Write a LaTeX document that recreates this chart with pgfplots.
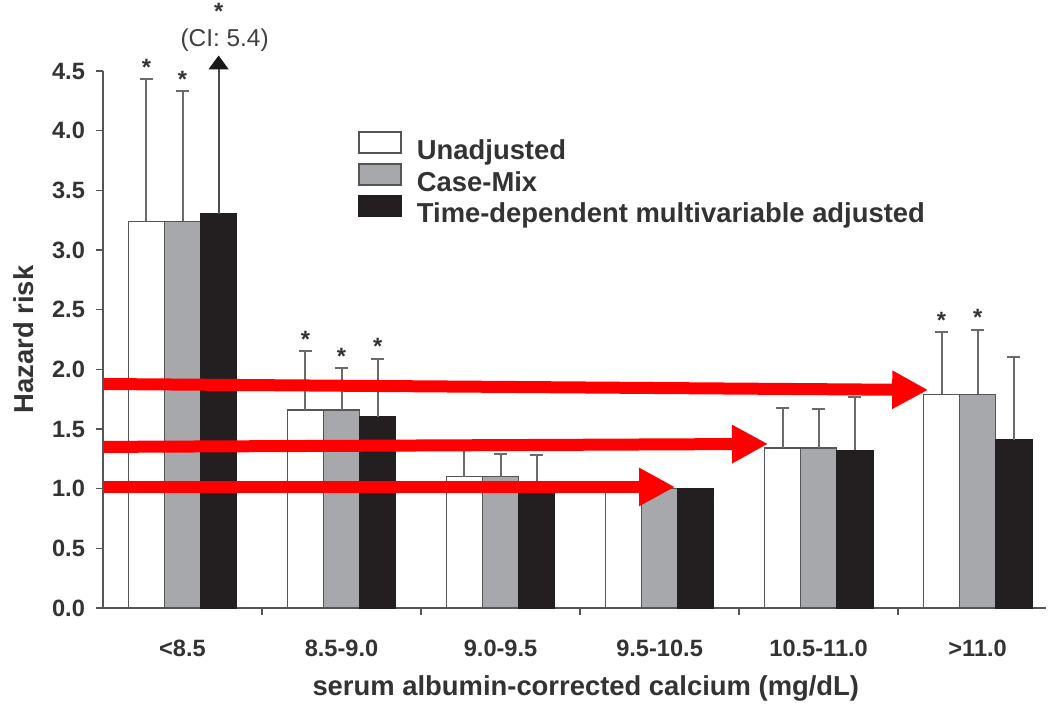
\documentclass[border=0pt]{standalone}
\usepackage{fontspec}
\setmainfont{Liberation Sans}
\usepackage{pgfplots}
\usepackage{pgfplotstable}
\pgfplotsset{compat=1.18}
\usetikzlibrary{arrows.meta}

\definecolor{bargray}{HTML}{A7A8AB}
\definecolor{barblack}{HTML}{231F20}
\definecolor{edge}{HTML}{555555}
\definecolor{errc}{HTML}{6A6A6A}
\definecolor{txt}{HTML}{333333}

\newcommand\tickfont{\fontsize{11.8pt}{14pt}\selectfont\bfseries}
\newcommand\labfont{\fontsize{13.7pt}{16pt}\selectfont\bfseries}

% hazard ratio (y) and upper confidence limit (hi) per calcium category
\pgfplotstableread{
x y    hi
0 3.24 4.43
1 1.66 2.15
2 1.10 1.33
3 1.00 1.00
4 1.34 1.68
5 1.79 2.31
}\unadj
\pgfplotstableread{
x y    hi
0 3.24 4.33
1 1.66 2.01
2 1.10 1.29
3 1.00 1.00
4 1.34 1.67
5 1.79 2.33
}\casemix
\pgfplotstableread{
x y    hi
0 3.30 5.40
1 1.60 2.09
2 1.06 1.28
3 1.00 1.00
4 1.32 1.77
5 1.41 2.10
}\timedep
% rows that carry an upper error bar (reference group has none;
% the off-scale limit of the first adjusted bar is drawn as an arrow)
\pgfplotstableread{
x y    hi
0 3.24 4.43
1 1.66 2.15
2 1.10 1.33
4 1.34 1.68
5 1.79 2.31
}\unadjerr
\pgfplotstableread{
x y    hi
0 3.24 4.33
1 1.66 2.01
2 1.10 1.29
4 1.34 1.67
5 1.79 2.33
}\casemixerr
\pgfplotstableread{
x y    hi
1 1.60 2.09
2 1.06 1.28
4 1.32 1.77
5 1.41 2.10
}\timedeperr

\pgfplotsset{
  errstyle/.style={forget plot, draw=none, mark=none,
    error bars/.cd, y dir=plus, y explicit,
    error bar style={draw=errc, line width=1pt, solid},
    error mark options={rotate=90, mark size=3.25pt, draw=errc, line width=1pt}},
}
\tikzset{
  sigstar/.style={font=\tickfont, text=txt, anchor=base, inner sep=0pt, yshift=2pt}
}

\begin{document}
\begin{tikzpicture}
\useasboundingbox (-51.5pt,-49.5pt) rectangle (472.5pt,304pt);
\begin{axis}[
  at={(0,0)}, anchor=south west,
  scale only axis, width=471.5pt, height=268.5pt,
  xmin=-0.5, xmax=5.43, ymin=0, ymax=4.5,
  clip=false,
  axis x line*=bottom, axis y line*=left,
  axis line style={draw=edge, line width=0.75pt},
  tick style={draw=edge, line width=0.75pt},
  tick align=outside, major tick length=3.5pt,
  ytick={0,0.5,...,4.5},
  yticklabel style={font=\tickfont, text=txt, xshift=-2pt},
  /pgf/number format/.cd, fixed, fixed zerofill, precision=1, assume math mode=true,
  /pgfplots/.cd,
  xtick={0.5,1.5,2.5,3.5,4.5}, xticklabels={},
  extra x ticks={0,1,2,3,4,5},
  extra x tick labels={<8.5,8.5-9.0,9.0-9.5,9.5-10.5,10.5-11.0,>11.0},
  extra x tick style={major tick length=0pt,
    xticklabel style={font=\tickfont, text=txt, anchor=center, yshift=-20pt}},
  xlabel={serum albumin-corrected calcium (mg/dL)},
  xlabel style={font=\labfont, text=txt, anchor=center,
    at={([yshift=-40pt]axis description cs:0.512,0)}},
  ylabel={Hazard risk},
  ylabel style={font=\labfont, text=txt, anchor=center,
    at={([xshift=-39.5pt]axis description cs:0,0.5)}},
  legend style={at={(0,1)}, anchor=north west, xshift=127.5pt, yshift=-30pt,
    draw=none, fill=none, inner sep=0pt, row sep=-2.3pt, font=\labfont,
    nodes={inner sep=1pt, text height=10pt, text depth=3pt, text=txt},
    /tikz/every odd column/.append style={column sep=6.5pt}},
  legend cell align=left,
]
% bars
\addplot[ybar, forget plot, bar width=0.227, bar shift=-0.227,
  fill=white, draw=edge, line width=0.75pt] table[x=x, y=y] {\unadj};
\addplot[ybar, forget plot, bar width=0.227, bar shift=0,
  fill=bargray, draw=edge, line width=0.75pt] table[x=x, y=y] {\casemix};
\addplot[ybar, forget plot, bar width=0.227, bar shift=0.227,
  fill=barblack, draw=barblack, line width=0.75pt] table[x=x, y=y] {\timedep};

% upper confidence limits
\addplot[errstyle] table[x expr=\thisrow{x}-0.227, y=y,
  y error expr=\thisrow{hi}-\thisrow{y}] {\unadjerr};
\addplot[errstyle] table[x=x, y=y,
  y error expr=\thisrow{hi}-\thisrow{y}] {\casemixerr};
\addplot[errstyle] table[x expr=\thisrow{x}+0.227, y=y,
  y error expr=\thisrow{hi}-\thisrow{y}] {\timedeperr};

% off-scale upper limit of the adjusted estimate below 8.5 mg/dL
\draw[draw=black!70, line width=1pt,
  -{Triangle[length=7pt, width=10pt, fill=black!90, color=black!90]}]
  (axis cs:0.227,3.30) -- (axis cs:0.227,4.63);
\node[font=\fontsize{12.2pt}{14pt}\selectfont, text=black!75, anchor=center,
  inner sep=0pt, xshift=3pt] at (axis cs:0.227,4.76) {(CI: 5.4)};

% significance markers
\node[sigstar] at (axis cs:-0.227,4.43) {*};
\node[sigstar] at (axis cs:0,4.33) {*};
\node[sigstar, yshift=-2pt] at (axis cs:0.227,4.93) {*};
\node[sigstar] at (axis cs:0.773,2.15) {*};
\node[sigstar] at (axis cs:1,2.01) {*};
\node[sigstar] at (axis cs:1.227,2.09) {*};
\node[sigstar] at (axis cs:4.773,2.31) {*};
\node[sigstar] at (axis cs:5,2.33) {*};

% legend
\addlegendimage{legend image code/.code={\draw[fill=white, draw=edge, line width=0.75pt] (0pt,-0.25pt) rectangle (21pt,10.25pt);}}
\addlegendentry{Unadjusted}
\addlegendimage{legend image code/.code={\draw[fill=bargray, draw=edge, line width=0.75pt] (0pt,-0.25pt) rectangle (21pt,10.25pt);}}
\addlegendentry{Case-Mix}
\addlegendimage{legend image code/.code={\draw[fill=barblack, draw=barblack, line width=0.75pt] (0pt,-0.25pt) rectangle (21pt,10.25pt);}}
\addlegendentry{Time-dependent multivariable adjusted}

% highlight arrows
\draw[red, line width=6pt, -{Triangle[length=18pt, width=18pt]}]
  (axis cs:-0.494,1.877) -- (axis cs:4.689,1.827);
\draw[red, line width=6pt, -{Triangle[length=18pt, width=18pt]}]
  (axis cs:-0.494,1.35) -- (axis cs:3.682,1.375);
\draw[red, line width=6pt, -{Triangle[length=18pt, width=18pt]}]
  (axis cs:-0.494,1.014) -- (axis cs:3.097,1.014);
\end{axis}
\end{tikzpicture}
\end{document}
